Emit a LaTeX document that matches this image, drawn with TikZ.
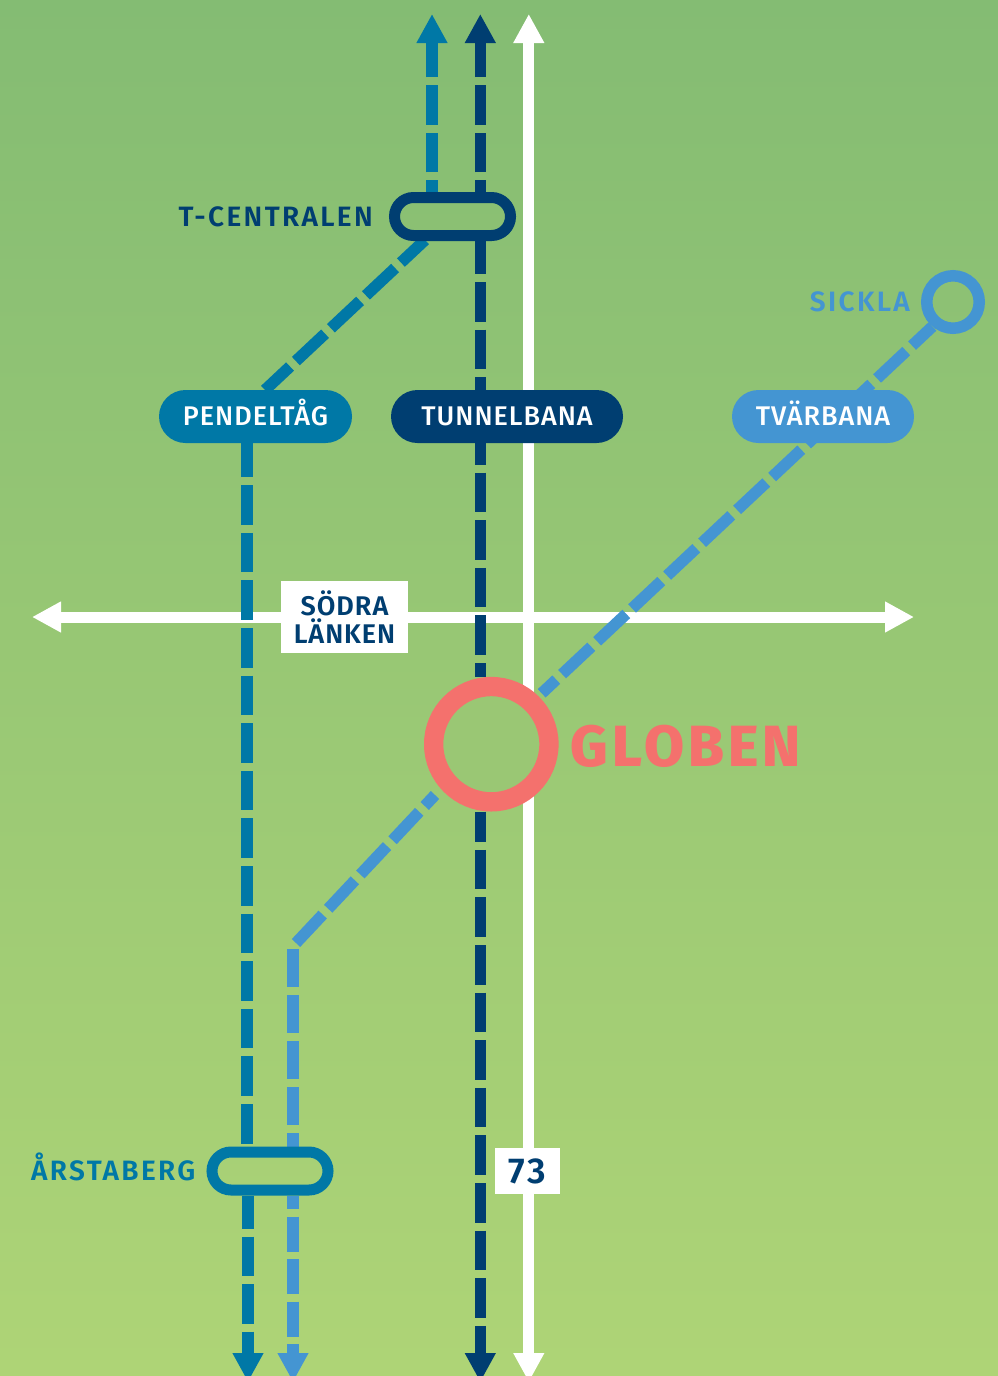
\documentclass[tikz,border=0pt]{standalone}
\usepackage{fontspec}
\setmainfont{Fira Sans}
\newfontfamily\pillfont{Fira Sans Medium}[LetterSpace=3.7]
\newfontfamily\stopfont{Fira Sans SemiBold}[LetterSpace=8.4]
\newfontfamily\signfont{Fira Sans SemiBold}[LetterSpace=3.5]
\newfontfamily\numberfont{Fira Sans SemiBold}[LetterSpace=7]
\newfontfamily\heavyfont{Fira Sans ExtraBold}[LetterSpace=7]
\usetikzlibrary{arrows.meta,positioning,shapes,backgrounds}
\definecolor{pendcol}{RGB}{0,120,166}
\definecolor{tunnelcol}{RGB}{0,62,113}
\definecolor{tvarcol}{RGB}{68,149,210}
\definecolor{globecol}{RGB}{244,113,109}
\definecolor{greentop}{RGB}{132,188,115}
\definecolor{greenbot}{RGB}{174,212,118}
\definecolor{greenmid}{RGB}{154,199,116}

\begin{document}
\begin{tikzpicture}[x=1pt, y=-1pt, >={Triangle[length=29pt,width=29pt]},
    whiteroad/.style={draw=white, line width=11pt},
    pendline/.style={draw=pendcol, line width=11.5pt},
    tunnelline/.style={draw=tunnelcol, line width=11.5pt},
    tvarline/.style={draw=tvarcol, line width=11.5pt},
    longdash/.style={dash pattern=on 39.6pt off 8pt, dash phase=#1},
    pill/.style={rounded rectangle, fill=#1, text=white, minimum height=53pt, inner sep=0pt,
        font=\pillfont\fontsize{27}{28}\selectfont, text height=18.6pt, text depth=0pt},
    stopbox/.style={rounded rectangle, draw=#1, line width=11pt, minimum width=116pt, minimum height=38pt, inner sep=0pt},
    stoptext/.style={inner sep=0pt, text=#1, font=\stopfont\fontsize{28}{30}\selectfont, text height=19.3pt, text depth=0pt},
    roadsign/.style={fill=white, text=tunnelcol, inner sep=0pt, align=center}]
    \useasboundingbox (0,0) rectangle (998,1376);

    \node[stopbox=tunnelcol] (tcentral) at (452.5,216.5) {};
    \node[stopbox=pendcol] (arsta) at (270,1171) {};
    \node[circle, draw=tvarcol, line width=11.5pt, minimum size=52.5pt, inner sep=0pt] (sickla) at (953,302) {};
    \node[circle, draw=globecol, fill=greenmid, line width=19.3pt, minimum size=115.3pt, inner sep=0pt] (globen) at (491.3,744.2) {};
    \node[pill=pendcol, minimum width=193pt] (pendeltag) at (255.5,416.5) {PENDELTÅG};
    \node[pill=tunnelcol, minimum width=232pt] (tunnelbana) at (507,416.5) {TUNNELBANA};
    \node[pill=tvarcol, minimum width=182pt] (tvarbana) at (823,416.5) {TVÄRBANA};

    \node[stoptext=tunnelcol, left=16pt of tcentral] (tcentraltext) {T-CENTRALEN};
    \node[stoptext=pendcol, left=11pt of arsta] (arstatext) {ÅRSTABERG};
    \node[stoptext=tvarcol, left=11pt of sickla] (sicklatext) {SICKLA};
    \node[right=12pt of globen, yshift=-2.5pt, inner sep=0pt, text=globecol, font=\heavyfont\fontsize{58}{60}\selectfont, text height=40pt, text depth=0pt] (globentext) {GLOBEN};

    \node[roadsign, minimum width=127pt, minimum height=72pt, font=\signfont\fontsize{27}{27.7}\selectfont] (sodra) at (344.5,617)
        {SÖDRA\\[0.2pt]LÄNKEN};
    \node[roadsign, minimum width=65pt, minimum height=46pt, font=\numberfont\fontsize{36}{38}\selectfont] (seventythree) at (527.5,1171) {73};

    \begin{scope}[on background layer]
    \shade[top color=greentop, bottom color=greenbot] (0,0) rectangle (998,1376);

    \coordinate (roadtop) at (528.8,14);
    \coordinate (roadbot) at (528.8,1382);
    \coordinate (roadwest) at (32,617);
    \coordinate (roadeast) at (914,617);
    \draw[whiteroad,<->] (roadwest) -- (roadeast);
    \draw[whiteroad,<->] (roadtop) -- (roadbot);

    \coordinate (pendtop) at (432,14);
    \coordinate (pendmid) at (247,443);
    \coordinate (pendbot) at (248,1382);
    \coordinate (pendring) at (425,240);
    \coordinate (pendpill) at (265,390);
    \coordinate (tunneltop) at (480.3,14);
    \coordinate (tunnelbot) at (480.3,1382);
    \coordinate (tvarup) at (541.7,693.3);
    \coordinate (tvarlow) at (435,795);
    \coordinate (tvarknee) at (296,943);
    \coordinate (tvarvert) at (293,949);
    \coordinate (tvarbot) at (293,1382);

    \draw[pendline,longdash=28,->] (tcentral.north -| pendtop) -- (pendtop);
    \draw[pendline,dash pattern=on 40pt off 8pt,dash phase=7] (pendring) -- (pendpill);
    \draw[pendline,longdash=5.6] (pendeltag.south -| pendmid) -- (arsta.north -| pendmid);
    \draw[pendline,longdash=6.6,->] (arsta.south -| pendbot) -- (pendbot);

    \draw[tunnelline,longdash=28,->] (tcentral.north -| tunneltop) -- (tunneltop);
    \draw[tunnelline,longdash=6.6] (tcentral.south -| tunneltop) -- (tunnelbana.north -| tunneltop);
    \draw[tunnelline,longdash=18.2] (tunnelbana.south -| tunneltop) -- (globen.north -| tunneltop);
    \draw[tunnelline,longdash=9.3,->] (globen.south -| tunneltop) -- (tunnelbot);

    \draw[tvarline,dash pattern=on 40pt off 8pt,dash phase=20] (tvarup) -- (sickla.230);
    \draw[tvarline,dash pattern=on 39pt off 8pt] (tvarknee) -- (tvarlow);
    \draw[tvarline,dash pattern=on 38pt off 8pt] (tvarvert) -- (arsta.north -| tvarvert);
    \draw[tvarline,dash pattern=on 35pt off 7.5pt,dash phase=21.3,->] (arsta.south -| tvarbot) -- (tvarbot);
    \end{scope}
\end{tikzpicture}
\end{document}
